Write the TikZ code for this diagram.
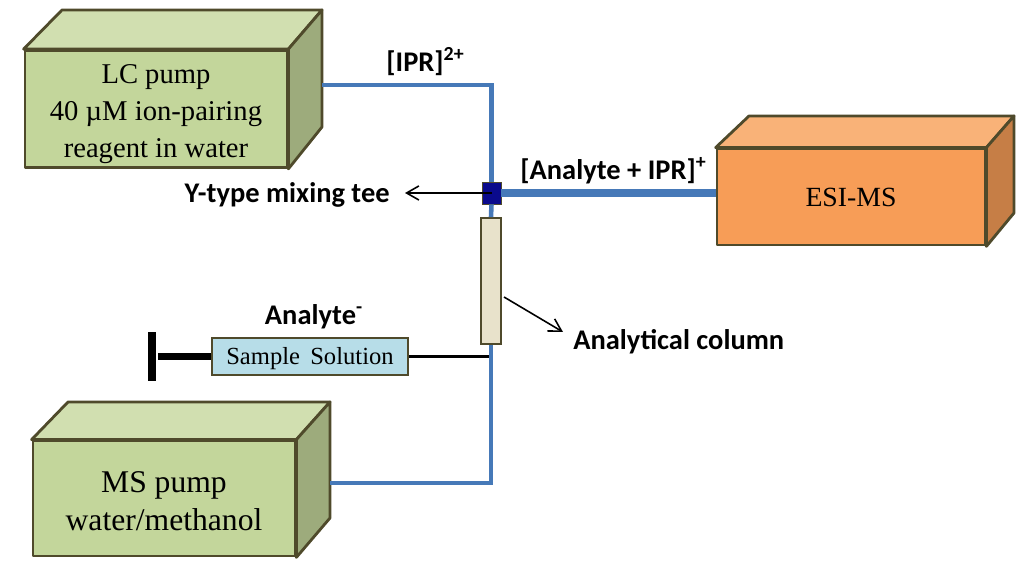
\documentclass[tikz,border=0pt]{standalone}
\usepackage{fontspec}
\setmainfont{Liberation Serif}
\newfontfamily\labelfont{Carlito}
\usetikzlibrary{arrows.meta}

\definecolor{pumpfront}{HTML}{C3D69B}
\definecolor{pumptop}{HTML}{D1DFB0}
\definecolor{pumpside}{HTML}{9DAB7C}
\definecolor{esifront}{HTML}{F79D57}
\definecolor{esitop}{HTML}{F9B278}
\definecolor{esiside}{HTML}{C67E46}
\definecolor{boxedge}{HTML}{4F4A2B}
\definecolor{pipeblue}{HTML}{4679B8}
\definecolor{teeblue}{HTML}{0A0A8C}
\definecolor{columnfill}{HTML}{E8E2CB}
\definecolor{samplefill}{HTML}{B7DDE8}

\tikzset{
  face/.style={draw=boxedge, line width=1.6pt, line join=round},
  front/.style={face, inner sep=0pt},
  boxtext/.style={inner sep=0pt, align=center},
  pipe/.style={draw=pipeblue, line width=2.6pt},
  thickpipe/.style={draw=pipeblue, line width=4.2pt},
  tag/.style={inner sep=0pt, font=\labelfont\bfseries\fontsize{16.2}{19}\selectfont},
  pointer/.style={-{Straight Barb[length=7pt,width=8pt]}, line width=.9pt},
}

\begin{document}
\begin{tikzpicture}[x=.02cm, y=-.02cm]
  \useasboundingbox (0,0) rectangle (1029,567);

  % LC pump
  \node[front, fill=pumpfront, minimum width=5.24cm, minimum height=2.34cm] (lc) at (156,109) {};
  \node[boxtext, font=\fontsize{16.3}{21}\selectfont] (lctext) at (156,114)
    {LC pump\\40 µM ion-pairing\\reagent in water};
  \draw[face, fill=pumptop] (lc.north west) -- (62,10) -- (322,10) -- (lc.north east) -- cycle;
  \draw[face, fill=pumpside] (lc.north east) -- (322,10) -- (322,127) -- (lc.south east) -- cycle;
  \coordinate (lcout) at (322,85);

  % MS pump
  \node[front, fill=pumpfront, minimum width=5.24cm, minimum height=2.3cm] (ms) at (164,498.5) {};
  \node[boxtext, font=\fontsize{18}{21.8}\selectfont] (mstext) at (164,501)
    {MS pump\\water/methanol};
  \draw[face, fill=pumptop] (ms.north west) -- (68,402) -- (330,402) -- (ms.north east) -- cycle;
  \draw[face, fill=pumpside] (ms.north east) -- (330,402) -- (330,518) -- (ms.south east) -- cycle;
  \coordinate (msout) at (330,483);

  % ESI-MS
  \node[front, fill=esifront, minimum width=5.36cm, minimum height=1.92cm, font=\fontsize{15.8}{19}\selectfont] (esi) at (851,197) {ESI-MS};
  \draw[face, fill=esitop] (esi.north west) -- (749,116) -- (1014,116) -- (esi.north east) -- cycle;
  \draw[face, fill=esiside] (esi.north east) -- (1014,116) -- (1014,213) -- (esi.south east) -- cycle;

  % tee and column
  \node[draw=boxedge, fill=teeblue, inner sep=0pt, minimum width=.38cm, minimum height=.44cm] (tee) at (491.5,193) {};
  \node[draw=boxedge, line width=1pt, fill=columnfill, inner sep=0pt, minimum width=.4cm, minimum height=2.52cm] (column) at (491,281) {};

  \draw[pipe] (lcout) -| (tee.north);
  \draw[pipe] (tee.south) -- (column.north);
  \draw[pipe] (column.south) |- (msout);
  \draw[thickpipe] (tee.east) -- (tee -| esi.west);

  % sample loop
  \node[draw=boxedge, line width=1pt, fill=samplefill, inner sep=0pt, minimum width=3.92cm, minimum height=.74cm] (sample) at (310,356.5) {};
  \node[inner sep=0pt, font=\fontsize{14}{17}\selectfont] (sampletext) at (310,359) {Sample\, Solution};
  \node[fill=black, inner sep=0pt, minimum width=.15cm, minimum height=.98cm] (bar) at (152,356.5) {};
  \coordinate (rod) at (158,356.5);
  \coordinate (loop) at (489,356.5);
  \draw[line width=4.4pt] (rod) -- (sample.west);
  \draw[line width=1.4pt] (sample.east) -- (loop);

  % labels
  \node[tag] (ipr) at (425.5,62) {[IPR]\textsuperscript{2+}};
  \node[tag] (adduct) at (613.5,171) {[Analyte + IPR]\textsuperscript{+}};
  \node[tag] (analyte) at (314,317) {Analyte\textsuperscript{-}};
  \node[tag, anchor=east] (teelabel) at (390,195) {Y-type mixing tee};
  \node[tag, anchor=west] (columnlabel) at (573,342) {Analytical column};

  \coordinate (teetip) at (405,193);
  \coordinate (columnfoot) at (504,297);
  \coordinate (columntip) at (563,332);
  \draw[pointer] (tee.center) -- (teetip);
  \draw[pointer] (columnfoot) -- (columntip);
\end{tikzpicture}
\end{document}
